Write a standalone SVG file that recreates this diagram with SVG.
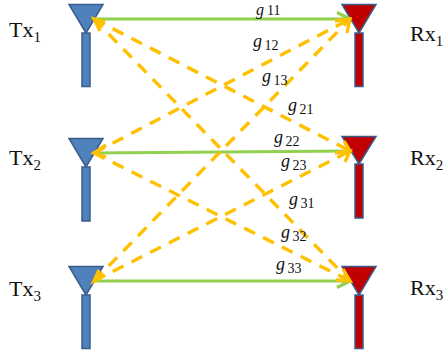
<svg xmlns="http://www.w3.org/2000/svg" width="443" height="356" viewBox="0 0 443 356">
<style>
.tx{fill:#4f81bd;stroke:#385d8a;stroke-width:1.5}
.rx{fill:#c00000;stroke:#385d8a;stroke-width:1.5}
.g{fill:none;stroke:#92d050;stroke-width:3.2}
.y{fill:none;stroke:#ffc000;stroke-width:3.4;stroke-dasharray:12 9}
.o{fill:none;stroke:#ffc000;stroke-width:3.4}
text{font-family:"Liberation Serif",serif;fill:#111}
.l{font-size:22px}
.s{font-size:15px}
.v{font-size:18px;font-style:italic}
.vs{font-size:14px;font-style:normal}
</style>
<rect width="443" height="356" fill="#fff"/>
<g id="tx1"><path class="tx" d="M69 4.500H103L86 33Z"/><rect class="tx" x="82" y="33" width="8" height="53.500"/></g>
<g id="tx2"><path class="tx" d="M69 138.500H103L86 167Z"/><rect class="tx" x="82" y="167" width="8" height="54"/></g>
<g id="tx3"><path class="tx" d="M69 266.500H103L86 295Z"/><rect class="tx" x="82" y="295" width="8" height="53.500"/></g>
<g id="rx1"><path class="rx" d="M342 4.500H376L359 33Z"/><rect class="rx" x="355" y="33" width="8" height="53.500"/></g>
<g id="rx2"><path class="rx" d="M342 136.500H376L359 164Z"/><rect class="rx" x="355" y="164" width="8" height="54"/></g>
<g id="rx3"><path class="rx" d="M342 266.500H376L359 295Z"/><rect class="rx" x="355" y="295" width="8" height="53.500"/></g>
<g id="connectors">
<path class="g" d="M94 19H350M337 12.500L350 19"/>
<path class="g" d="M94 153L350 151"/>
<path class="g" d="M94 281H350M337 287.500L350 281"/>
<path class="y" d="M94 19L350 151"/><path class="y" d="M94 19L350 281"/>
<path class="y" d="M94 153L350 19"/><path class="y" d="M94 153L350 281"/>
<path class="y" d="M94 281L350 19"/><path class="y" d="M94 281L350 151"/>
<path class="o" d="M335 21L350 19L347 33"/><path class="o" d="M344 141L350 151L335 153L350 151L345 162"/>
<path class="o" d="M343 269L350 281L336 280"/>
<path class="o" d="M105 22L94 19L100 31"/><path class="o" d="M106 145L94 153L106 157"/><path class="o" d="M105 275L94 281L99 270"/>
</g>
<g id="labels">
<text class="l" x="9" y="37">Tx<tspan class="s" dy="5">1</tspan></text>
<text class="l" x="9" y="165">Tx<tspan class="s" dy="5">2</tspan></text>
<text class="l" x="9" y="296">Tx<tspan class="s" dy="5">3</tspan></text>
<text class="l" x="410" y="41">Rx<tspan class="s" dy="5">1</tspan></text>
<text class="l" x="410" y="165">Rx<tspan class="s" dy="5">2</tspan></text>
<text class="l" x="410" y="295">Rx<tspan class="s" dy="5">3</tspan></text>
<text class="v" x="256" y="14.500" style="font-size:16px">g<tspan class="vs" dx="3" dy="0">11</tspan></text>
<text class="v" x="253" y="46.500">g<tspan class="vs" dx="2.500" dy="3">12</tspan></text>
<text class="v" x="262" y="82">g<tspan class="vs" dx="2.500" dy="3">13</tspan></text>
<text class="v" x="288" y="111">g<tspan class="vs" dx="2.500" dy="3">21</tspan></text>
<text class="v" x="274" y="143">g<tspan class="vs" dx="2.500" dy="3">22</tspan></text>
<text class="v" x="281" y="167">g<tspan class="vs" dx="2.500" dy="3">23</tspan></text>
<text class="v" x="289" y="205">g<tspan class="vs" dx="2.500" dy="3">31</tspan></text>
<text class="v" x="281" y="238">g<tspan class="vs" dx="2.500" dy="3">32</tspan></text>
<text class="v" x="276" y="270">g<tspan class="vs" dx="2.500" dy="3">33</tspan></text>
</g>
</svg>
